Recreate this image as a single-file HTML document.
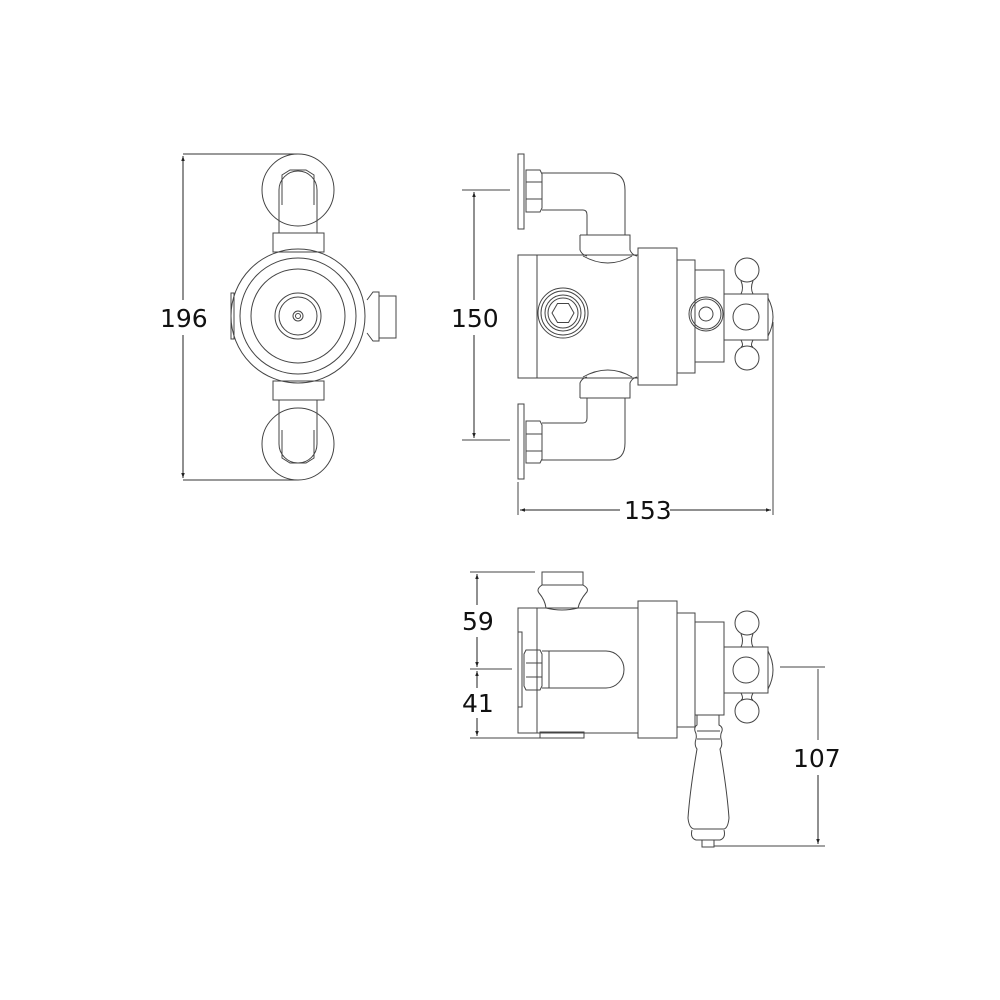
<!DOCTYPE html>
<html><head><meta charset="utf-8"><style>
html,body{margin:0;padding:0;background:#fff;}
svg{display:block}
text{font-family:"DejaVu Sans","Liberation Sans",sans-serif;font-size:25px;fill:#111;}
</style></head><body>
<svg width="1000" height="1000" viewBox="0 0 1000 1000" xmlns="http://www.w3.org/2000/svg">
<defs>
<marker id="a" viewBox="0 0 10 10" refX="10" refY="5" markerWidth="5" markerHeight="10" orient="auto-start-reverse" markerUnits="userSpaceOnUse"><path d="M0,1.5 L10,5 L0,8.5 z" fill="#222"/></marker>
</defs>
<g fill="none" stroke="#444" stroke-width="1">
<!-- ===== View 1 ===== -->
<line x1="183" y1="154" x2="298" y2="154" stroke="#333"/>
<line x1="183" y1="480" x2="298" y2="480" stroke="#333"/>
<line x1="183" y1="156" x2="183" y2="300" stroke="#222" marker-start="url(#a)"/>
<line x1="183" y1="335" x2="183" y2="478" stroke="#222" marker-end="url(#a)"/>
<circle cx="298" cy="190" r="36"/>
<path d="M279,233 V190 A19,19 0 0 1 317,190 V233"/>
<path d="M282,205 L282,175 L290,170 L306,170 L314,175 L314,205"/>
<rect x="273" y="233" width="51" height="19"/>
<circle cx="298" cy="316" r="67"/>
<circle cx="298" cy="316" r="58"/>
<circle cx="298" cy="316" r="47"/>
<circle cx="298" cy="316" r="23"/>
<circle cx="298" cy="316" r="19"/>
<circle cx="298" cy="316" r="5"/>
<circle cx="298" cy="316" r="2.5"/>
<path d="M367,300 L373,292 H379 V341 H373 L367,333"/>
<rect x="379" y="296" width="17" height="42"/>
<rect x="231" y="293" width="3" height="46"/>
<rect x="273" y="381" width="51" height="19"/>
<circle cx="298" cy="444" r="36"/>
<path d="M279,400 V444 A19,19 0 0 0 317,444 V400"/>
<path d="M282,430 L282,458 L290,463 L306,463 L314,458 L314,430"/>

<!-- ===== View 2 ===== -->
<line x1="462" y1="190" x2="510" y2="190"/>
<line x1="462" y1="440" x2="510" y2="440"/>
<line x1="474" y1="192" x2="474" y2="300" stroke="#222" marker-start="url(#a)"/>
<line x1="474" y1="335" x2="474" y2="438" stroke="#222" marker-end="url(#a)"/>
<line x1="518" y1="482" x2="518" y2="515"/>
<line x1="773" y1="322" x2="773" y2="515"/>
<line x1="520" y1="510" x2="620" y2="510" stroke="#222" marker-start="url(#a)"/>
<line x1="670" y1="510" x2="771" y2="510" stroke="#222" marker-end="url(#a)"/>
<g id="pipe">
<rect x="518" y="154" width="6" height="75"/>
<path d="M526,170 H540 L542,174 V208 L540,212 H526 Z"/>
<line x1="526" y1="182" x2="542" y2="182"/><line x1="526" y1="199" x2="542" y2="199"/>
<path d="M542,173 H610 Q625,173 625,190 V235"/>
<path d="M542,210 H583 Q587,210 587,215 V235"/>
<path d="M580,235 H630 V250 Q632,255 637,256"/>
<path d="M580,235 V250 Q582,255 587,256"/>
<path d="M583,256 Q608,270 632,256"/>
</g>
<use href="#pipe" transform="translate(0,633) scale(1,-1)"/>
<rect x="518" y="255" width="19" height="123"/>
<rect x="537" y="255" width="101" height="123"/>
<circle cx="563" cy="313" r="25"/><circle cx="563" cy="313" r="22"/><circle cx="563" cy="313" r="18"/><circle cx="563" cy="313" r="15"/>
<polygon points="574,313 568.5,322.5 557.5,322.5 552,313 557.5,303.5 568.5,303.5"/>
<rect x="638" y="248" width="39" height="137"/>
<rect x="677" y="260" width="18" height="113"/>
<rect x="695" y="270" width="29" height="92"/>
<circle cx="706" cy="314" r="17"/><circle cx="706" cy="314" r="15"/><circle cx="706" cy="314" r="7"/>
<g id="cross2">
<rect x="724" y="294" width="44" height="46"/>
<circle cx="746" cy="317" r="13"/>
<circle cx="747" cy="270" r="12"/>
<path d="M741,281 Q744,288 741,294 M753,281 Q750,288 753,294"/>
<circle cx="747" cy="358" r="12"/>
<path d="M741,340 Q744,346 741,347 M753,340 Q750,346 753,347"/>
<path d="M768,298 Q778,317 768,336"/>
</g>

<!-- ===== View 3 ===== -->
<line x1="470" y1="572" x2="535" y2="572"/>
<line x1="470" y1="669" x2="512" y2="669"/>
<line x1="470" y1="738" x2="540" y2="738"/>
<line x1="477" y1="574" x2="477" y2="605" stroke="#222" marker-start="url(#a)"/>
<line x1="477" y1="637" x2="477" y2="667" stroke="#222" marker-end="url(#a)"/>
<line x1="477" y1="671" x2="477" y2="688" stroke="#222" marker-start="url(#a)"/>
<line x1="477" y1="718" x2="477" y2="736" stroke="#222" marker-end="url(#a)"/>
<line x1="780" y1="667" x2="825" y2="667"/>
<line x1="714" y1="846" x2="825" y2="846"/>
<line x1="818" y1="669" x2="818" y2="740"/>
<line x1="818" y1="775" x2="818" y2="844" stroke="#222" marker-end="url(#a)"/>
<rect x="542" y="572" width="41" height="13"/>
<path d="M542,585 Q536,589 539,593 Q545,600 546,608 Q562,612 578,608 Q580,600 586,593 Q590,589 583,585"/>
<rect x="518" y="608" width="19" height="125"/>
<rect x="537" y="608" width="101" height="125"/>
<rect x="518" y="632" width="4" height="75"/>
<path d="M526,650 H540 L542,654 V686 L540,690 H526 L524,686 V654 Z"/>
<line x1="526" y1="663" x2="542" y2="663"/><line x1="526" y1="677" x2="542" y2="677"/>
<path d="M542,651 H606 A18,18.5 0 0 1 606,688 H542"/>
<line x1="549" y1="651" x2="549" y2="688"/>
<path d="M540,738 V732 H584 V738 Z"/>
<rect x="638" y="601" width="39" height="137"/>
<rect x="677" y="613" width="18" height="114"/>
<rect x="695" y="622" width="29" height="93"/>
<use href="#cross2" transform="translate(0,353)"/>
<path d="M697,715 V725 Q694,727 695,731 Q697,735 696,739 Q694,745 697,749 Q690,790 688,818 Q689,828 694,829 H724 Q728,828 729,818 Q727,790 720,749 Q723,745 721,739 Q720,735 722,731 Q723,727 719,725 V715"/>
<line x1="697" y1="731" x2="720" y2="731"/><line x1="697" y1="739" x2="720" y2="739"/>
<path d="M692,830 Q690,838 696,840 H720 Q726,838 724,830"/>
<rect x="702" y="840" width="12" height="7"/>
</g>
<g stroke="none">
<text x="160" y="327">196</text>
<text x="451" y="327">150</text>
<text x="624" y="519">153</text>
<text x="462" y="630">59</text>
<text x="462" y="712">41</text>
<text x="793" y="767">107</text>
</g>
</svg>
</body></html>
